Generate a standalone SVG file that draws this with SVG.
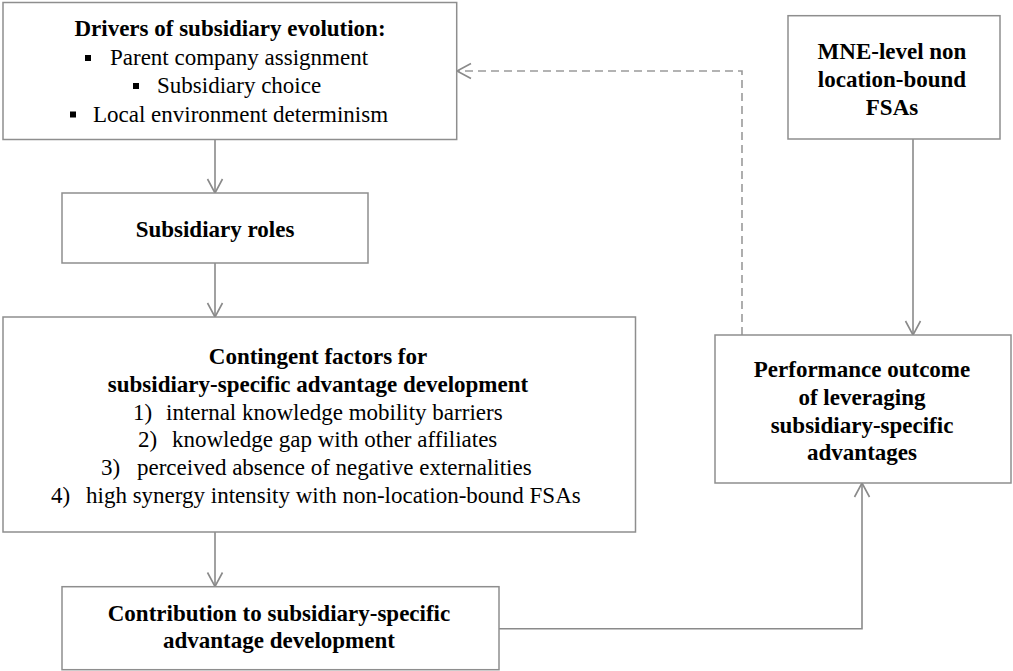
<svg xmlns="http://www.w3.org/2000/svg" width="1013" height="671" viewBox="0 0 1013 671">
  <style>
    .box { fill: #ffffff; stroke: #8e8e8e; stroke-width: 1.5; }
    .t { font-family: 'Liberation Serif', 'Times New Roman', serif; font-size: 23px; fill: #000000; }
    .b { font-weight: bold; }
    .m { text-anchor: middle; }
    .link { fill: none; stroke: #8a8a8a; stroke-width: 1.6; }
    .dash { stroke-dasharray: 8 5; stroke: #9a9a9a; }
    .bullet { fill: #000000; }
  </style>
  <defs>
    <!-- open chevron arrowhead shared by all connectors -->
    <marker id="open" markerUnits="userSpaceOnUse" markerWidth="20" markerHeight="20" viewBox="-16 -10 18 20" refX="0" refY="0" orient="auto">
      <path d="M-14,-7.5 L0,0 L-14,7.5" fill="none" stroke="#8a8a8a" stroke-width="1.6"/>
    </marker>
  </defs>

  <rect width="1013" height="671" fill="#ffffff"/>

  <!-- connectors -->
  <g id="connectors">
    <line class="link" x1="215" y1="139.5" x2="215" y2="193" marker-end="url(#open)"/>
    <line class="link" x1="215" y1="263" x2="215" y2="317" marker-end="url(#open)"/>
    <line class="link" x1="215" y1="532" x2="215" y2="586.5" marker-end="url(#open)"/>
    <line class="link" x1="913" y1="139" x2="913" y2="335" marker-end="url(#open)"/>
    <path class="link" d="M499,628.7 H862 V483" marker-end="url(#open)"/>
    <path class="link dash" d="M742,335 V71 H457" marker-end="url(#open)"/>
  </g>

  <!-- drivers -->
  <g id="drivers">
    <rect class="box" x="3" y="2.5" width="453.7" height="137"/>
    <text class="t b m" x="230" y="36">Drivers of subsidiary evolution:</text>
    <rect class="bullet" x="85" y="55" width="6" height="6"/>
    <text class="t" x="110" y="65">Parent company assignment</text>
    <rect class="bullet" x="133" y="83" width="6" height="6"/>
    <text class="t" x="157" y="93">Subsidiary choice</text>
    <rect class="bullet" x="70" y="111.5" width="6" height="6"/>
    <text class="t" x="93" y="121.5">Local environment determinism</text>
  </g>

  <!-- roles -->
  <g id="roles">
    <rect class="box" x="62" y="193" width="306" height="70"/>
    <text class="t b m" x="215" y="237">Subsidiary roles</text>
  </g>

  <!-- contingent factors -->
  <g id="contingent">
    <rect class="box" x="3" y="317" width="632.5" height="215"/>
    <text class="t b m" x="318" y="364.3">Contingent factors for</text>
    <text class="t b m" x="318" y="392">subsidiary-specific advantage development</text>
    <text class="t" y="419.7"><tspan x="133">1)</tspan><tspan x="166">internal knowledge mobility barriers</tspan></text>
    <text class="t" y="447.4"><tspan x="138">2)</tspan><tspan x="172">knowledge gap with other affiliates</tspan></text>
    <text class="t" y="475.1"><tspan x="101">3)</tspan><tspan x="137">perceived absence of negative externalities</tspan></text>
    <text class="t" y="502.8"><tspan x="51">4)</tspan><tspan x="86">high synergy intensity with non-location-bound FSAs</tspan></text>
  </g>

  <!-- contribution -->
  <g id="contribution">
    <rect class="box" x="62" y="586.7" width="437" height="83"/>
    <text class="t b m" x="279" y="620.7">Contribution to subsidiary-specific</text>
    <text class="t b m" x="279" y="648">advantage development</text>
  </g>

  <!-- MNE-level FSAs -->
  <g id="mne">
    <rect class="box" x="788" y="15.7" width="212" height="123.3"/>
    <text class="t b m" x="892" y="59.3">MNE-level non</text>
    <text class="t b m" x="892" y="87">location-bound</text>
    <text class="t b m" x="892" y="114.5">FSAs</text>
  </g>

  <!-- performance outcome -->
  <g id="performance">
    <rect class="box" x="715" y="335" width="296" height="148"/>
    <text class="t b m" x="862" y="377.3">Performance outcome</text>
    <text class="t b m" x="862" y="405">of leveraging</text>
    <text class="t b m" x="862" y="432.7">subsidiary-specific</text>
    <text class="t b m" x="862" y="460.3">advantages</text>
  </g>
</svg>
